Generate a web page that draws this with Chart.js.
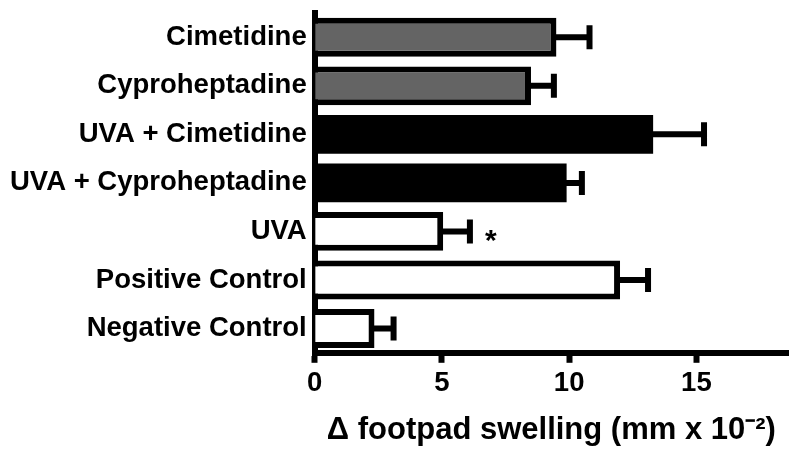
<!DOCTYPE html>
<html>
<head>
<meta charset="utf-8">
<script src="https://cdn.jsdelivr.net/npm/chart.js@4"></script>
<style>
  html, body { margin: 0; padding: 0; background: #fff; }
</style>
</head>
<body>
<canvas id="myChart" width="800" height="451"></canvas>
<script>
// values (mm x 10^-2)
var groups = ["Cimetidine", "Cyproheptadine", "UVA + Cimetidine", "UVA + Cyproheptadine", "UVA", "Positive Control", "Negative Control"];
var swelling = [9.5, 8.5, 13.3, 9.9, 5.05, 12.0, 2.35];
var errorTop = [10.8, 9.4, 15.3, 10.5, 6.1, 13.1, 3.1];
var marks = ["", "", "", "", "*", "", ""];
var xTicks = [0, 5, 10, 15];

var fills = ["#646464", "#646464", "#000000", "#000000", "#ffffff", "#ffffff", "#ffffff"];
var fontFamily = "'Liberation Sans', Arial, Helvetica, sans-serif";

// whiskers + the significance star, drawn after the bars
var errorBars = {
  id: "errorBars",
  afterDatasetsDraw: function(chart) {
    var ctx = chart.ctx;
    var xScale = chart.scales.x;
    var meta = chart.getDatasetMeta(0);
    ctx.save();
    ctx.strokeStyle = "#000";
    ctx.fillStyle = "#000";
    ctx.lineWidth = 6;
    ctx.lineCap = "butt";
    meta.data.forEach(function(bar, i) {
      var end = xScale.getPixelForValue(errorTop[i]);
      ctx.beginPath();
      ctx.moveTo(bar.x - 3, bar.y);
      ctx.lineTo(end, bar.y);
      ctx.moveTo(end, bar.y - 12);
      ctx.lineTo(end, bar.y + 12);
      ctx.stroke();
      if (marks[i]) {
        ctx.font = "bold 30px " + fontFamily;
        ctx.textAlign = "center";
        ctx.textBaseline = "middle";
        ctx.fillText(marks[i], end + 21, bar.y + 10);
      }
    });
    ctx.restore();
  }
}; // end of error bar plugin

var myChart = new Chart(document.getElementById("myChart"), {
  type: "bar",
  data: {
    labels: groups,
    datasets: [
      {
        label: "footpad swelling",
        data: swelling,
        backgroundColor: fills,
        borderColor: "#000",
        // solid black bars don't need a border (avoids a seam)
        borderWidth: function(c) {
          return fills[c.dataIndex] === "#000000" ? 0 : 6;
        },
        barPercentage: 0.8,
        categoryPercentage: 1
      }
    ]
  },
  options: {
    indexAxis: "y",
    responsive: false,
    animation: false,
    layout: { padding: { top: 13, right: 12, left: 2, bottom: 2 } },
    plugins: {
      legend: { display: false },
      tooltip: { enabled: false }
    },
    scales: {
      x: {
        min: 0,
        max: 18.6,
        afterBuildTicks: function(scale) {
          scale.ticks = xTicks.map(function(v) { return { value: v }; });
        },
        grid: {
          display: true,
          drawOnChartArea: false,
          drawTicks: true,
          tickLength: 10,
          tickWidth: 6,
          tickColor: "#000"
        },
        border: { display: true, color: "#000", width: 6 },
        ticks: {
          color: "#000",
          padding: 4,
          font: { family: fontFamily, size: 27.5, weight: "bold" }
        },
        title: {
          display: true,
          text: "\u0394 footpad swelling (mm x 10\u207B\u00B2)",
          color: "#000",
          padding: { top: 8, bottom: 0 },
          font: { family: fontFamily, size: 31, weight: "bold" }
        }
      },
      y: {
        afterFit: function(scale) {
          // labels sit mid-slot, so no extra room needed above/below
          scale.paddingTop = 0;
          scale.paddingBottom = 0;
        },
        grid: { display: true, drawOnChartArea: false, drawTicks: false },
        border: { display: true, color: "#000", width: 6 },
        ticks: {
          color: "#000",
          padding: 8,
          font: { family: fontFamily, size: 27.5, weight: "bold" }
        }
      }
    }
  },
  plugins: [errorBars]
}); // end of bar chart
</script>
</body>
</html>
